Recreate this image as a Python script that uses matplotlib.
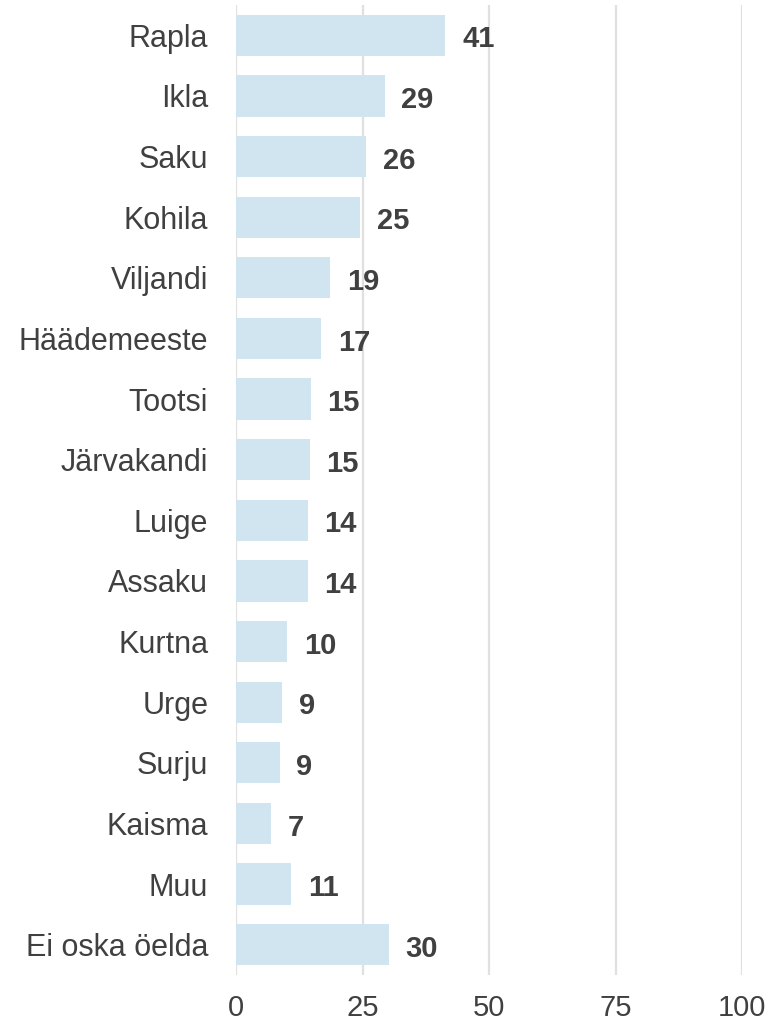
import matplotlib
matplotlib.use("Agg")
import matplotlib.pyplot as plt

# data (percent)
places = ["Rapla", "Ikla", "Saku", "Kohila", "Viljandi", "Häädemeeste", "Tootsi",
          "Järvakandi", "Luige", "Assaku", "Kurtna", "Urge", "Surju", "Kaisma",
          "Muu", "Ei oska öelda"]
shares = [41.4, 29.4, 25.7, 24.6, 18.6, 16.8, 14.8, 14.6, 14.2, 14.2,
          10.1, 9.1, 8.6, 7.0, 10.9, 30.2]
xticks = [0, 25, 50, 75, 100]

BAR = "#d1e5f0"; GRID = "#e0e0e0"; TEXT = "#404040"

plt.rcParams["font.family"] = ["Liberation Sans", "DejaVu Sans"]

fig = plt.figure(figsize=(7.72, 10.27), dpi=100)
ax = fig.add_axes([236 / 772, 1 - 975 / 1027, (742 - 236) / 772, 970 / 1027])

ypos = list(range(len(places)))
ax.barh(ypos, shares, height=0.68, color=BAR, zorder=2)
for y, v in zip(ypos, shares):
    ax.annotate(f"{round(v)}", (v, y), xytext=(12, -3), textcoords="offset points",
                va="center", ha="left", fontsize=21, fontweight="bold", color=TEXT)

ax.set_xlim(0, 100)
ax.set_ylim(len(places) - 0.5, -0.5)
ax.set_xticks(xticks)
ax.set_yticks(ypos)
ax.set_yticklabels(places)
ax.tick_params(axis="both", length=0, labelsize=22, labelcolor=TEXT)
ax.tick_params(axis="y", pad=20)
ax.tick_params(axis="x", pad=14, labelsize=21)
ax.grid(axis="x", color=GRID, lw=1.6, zorder=0)
ax.set_axisbelow(True)
for s in ax.spines.values():
    s.set_visible(False)

fig.savefig("out.png", dpi=100, facecolor="white")
